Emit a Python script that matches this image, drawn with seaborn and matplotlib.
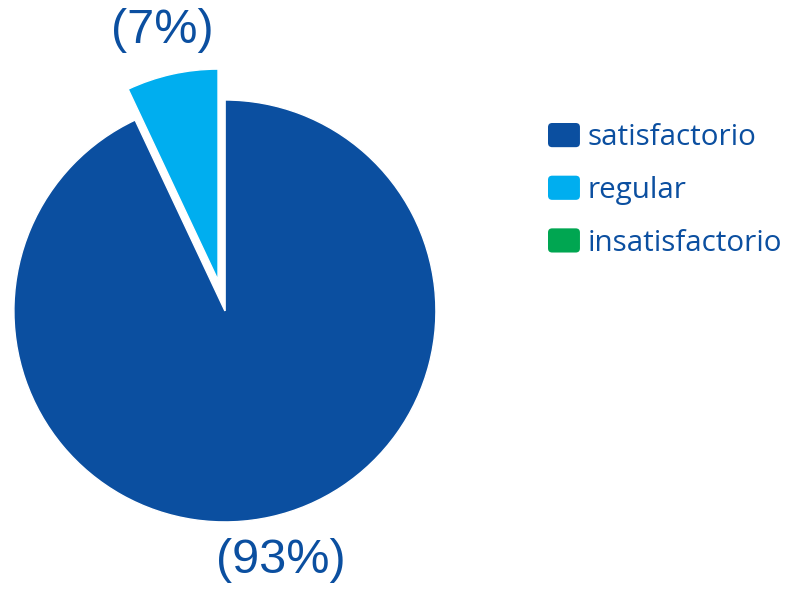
import matplotlib
matplotlib.use("Agg")
import matplotlib.pyplot as plt
import seaborn as sns
from matplotlib.patches import FancyBboxPatch, Patch
from matplotlib.legend_handler import HandlerPatch

sns.set_theme(style="white")

categories = ["satisfactorio", "regular", "insatisfactorio"]
values = [93, 7, 0]
colors = ["#0b4fa0", "#00aeef", "#00a651"]
text_color = "#0b4fa0"

fig = plt.figure(figsize=(7.87, 5.89), dpi=100)
ax = fig.add_axes([0, 0, 1, 1])

labels = [f"({v}%)" if v > 0 else "" for v in values]
wedges, texts = ax.pie(values, colors=colors, labels=labels, startangle=90,
                       counterclock=False, explode=[0, 0.15, 0],
                       labeldistance=1.21, radius=1,
                       textprops=dict(color=text_color, fontsize=35,
                                      family=["Liberation Sans", "DejaVu Sans"]))
for t in texts:
    t.set_ha("center")
    t.set_va("center")

ax.set_xlim(-1.066, 2.664)
ax.set_ylim(-1.318, 1.474)
ax.set_aspect("auto")
ax.axis("off")


class RoundHandler(HandlerPatch):
    def create_artists(self, legend, orig_handle, xdescent, ydescent, width,
                       height, fontsize, trans):
        p = FancyBboxPatch((-xdescent + 1.5, -ydescent + 1.5), width - 3, height - 3,
                           boxstyle="round,pad=1.5,rounding_size=3",
                           facecolor=orig_handle.get_facecolor(),
                           edgecolor="none", transform=trans)
        return [p]


handles = [Patch(facecolor=c) for c in colors]
leg = fig.legend(handles, categories, loc="upper left",
                 bbox_to_anchor=(548 / 787, 1 - 123 / 589),
                 frameon=False, borderpad=0, borderaxespad=0,
                 handlelength=1.08, handleheight=0.88, handletextpad=0.27,
                 labelspacing=0.79,
                 prop=dict(family=["Open Sans", "DejaVu Sans"], size=21.3),
                 handler_map={Patch: RoundHandler()})
for t in leg.get_texts():
    t.set_color(text_color)

fig.savefig("out.png", dpi=100)
